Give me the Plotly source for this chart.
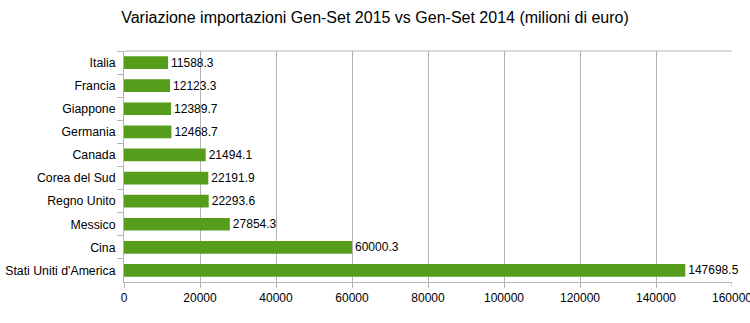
import plotly.graph_objects as go

paesi = ["Italia", "Francia", "Giappone", "Germania", "Canada", "Corea del Sud",
         "Regno Unito", "Messico", "Cina", "Stati Uniti d'America"]
valori = [11588.3, 12123.3, 12389.7, 12468.7, 21494.1, 22191.9,
          22293.6, 27854.3, 60000.3, 147698.5]
x_ticks = [0, 20000, 40000, 60000, 80000, 100000, 120000, 140000, 160000]

fig = go.Figure(go.Bar(
    y=paesi, x=valori, orientation="h",
    marker=dict(color="#579d1c", line=dict(width=0)),
    text=[f"{v:.1f}" for v in valori], textposition="outside",
    textfont=dict(family="Liberation Sans", size=12, color="#000000"),
    constraintext="none",
    cliponaxis=False,
))

fig.update_layout(
    width=750, height=323,
    margin=dict(l=124, r=18, t=51, b=41),
    paper_bgcolor="white", plot_bgcolor="white",
    font=dict(family="Liberation Sans", size=12, color="#000000"),
    title=dict(text="Variazione importazioni Gen-Set 2015 vs Gen-Set 2014 (milioni di euro)",
               x=0.5, xanchor="center", y=0.945, yanchor="middle",
               font=dict(family="Liberation Sans", size=16, color="#000000")),
    bargap=0.45,
    showlegend=False,
)
fig.update_xaxes(
    range=[0, 160000], tickvals=x_ticks[:-1], ticktext=[str(t) for t in x_ticks[:-1]],
    showgrid=True, gridcolor="#b3b3b3", gridwidth=1,
    showline=True, linecolor="#b3b3b3", ticks="outside", ticklen=5, tickcolor="#b3b3b3",
    zeroline=False, tickfont=dict(size=12), automargin=False,
)
fig.update_yaxes(
    categoryorder="array", categoryarray=paesi, autorange="reversed",
    showline=True, linecolor="#b3b3b3", ticks="outside", ticklen=6, tickcolor="#b3b3b3",
    tickson="boundaries", showgrid=False, tickfont=dict(size=12.3),
    ticklabelstandoff=5, automargin=False,
)
fig.add_shape(type="line", xref="paper", yref="paper", x0=0, x1=1, y0=1, y1=1,
              line=dict(color="#b3b3b3", width=1))
fig.add_shape(type="line", xref="x", yref="paper", x0=x_ticks[-1], x1=x_ticks[-1], y0=0, y1=-0.022,
              line=dict(color="#b3b3b3", width=1))
fig.add_annotation(x=x_ticks[-1], xref="x", y=0, yref="paper", yanchor="top", yshift=-7,
                   text=str(x_ticks[-1]), showarrow=False,
                   font=dict(family="Liberation Sans", size=12, color="#000000"))
fig.write_html("out.html")
